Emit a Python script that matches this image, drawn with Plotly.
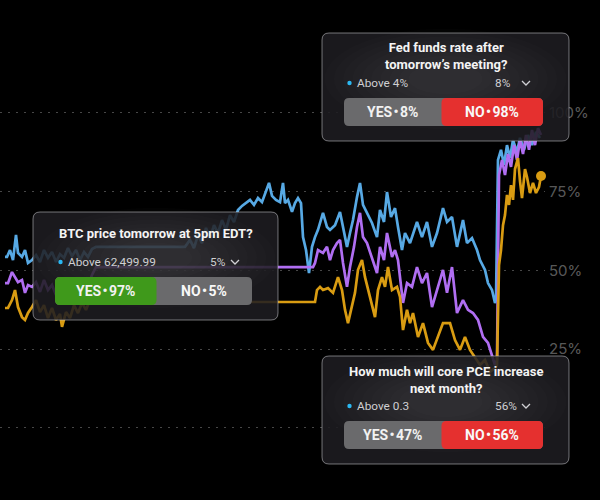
import plotly.graph_objects as go

# ---------------- data ----------------
blue_t = [5,7,10,13,16,18,22,25,28,32,36,40,44,48,52,56,60,64,68,72,76,80,84,88,92,96,185,190,194,198,202,206,210,214,218,222,226,230,234,238,242,246,250,254,258,262,266,269,272,276,280,283,285,288,292,295,298,301,303,306,309,312,315,318,323,327,330,335,340,343,347,350,353,357,360,363,367,372,377,380,384,387,391,395,398,402,405,410,417,422,427,432,437,443,447,452,457,463,467,472,477,480,485,488,492,495,496,498,501,504,507,510,513,517,520,524,528,532,536,540]
blue_v = [54.3,54.3,56.5,53.3,61.3,55.6,54.3,56.5,52.4,53.3,54.9,52.7,56.5,54.0,55.9,52.7,55.2,54.0,57.1,54.6,56.5,53.3,55.9,54.3,56.8,57.5,57.5,59.7,57.1,61.3,58.7,63.5,60.3,64.4,61.9,66.0,62.9,67.6,65.4,69.2,70.5,71.4,72.4,70.8,73.0,71.7,75.6,77.8,73.7,72.4,71.7,77.8,71.4,72.4,68.6,71.4,73.0,71.4,60.6,56.5,49.2,57.5,60.6,62.9,68.3,63.8,62.9,64.4,68.6,63.8,57.5,61.9,66.0,73.3,77.8,70.8,68.3,65.1,60.6,69.2,65.4,74.9,67.0,69.8,63.8,56.5,61.9,58.7,65.4,60.6,65.4,57.5,61.9,69.8,65.4,67.0,57.5,66.0,58.7,60.3,56.5,53.3,50.2,46.0,43.8,39.7,40.6,85.1,88.3,83.5,89.8,85.7,91.4,87.6,92.1,88.3,93.0,89.8,94.0,92.1]

purple_t = [5,8,12,15,18,22,25,28,32,36,40,44,48,52,56,60,64,68,72,76,80,84,88,92,96,313,315,318,323,327,330,333,337,340,343,347,350,354,357,360,363,367,372,377,380,384,387,392,395,398,403,407,412,417,422,427,432,437,443,447,452,457,463,468,473,478,483,488,492,495,497,499,502,505,508,511,514,517,520,523,526,529,532,535,538,541]
purple_v = [46.0,46.0,49.5,47.9,46.3,47.0,42.9,45.4,44.8,46.3,43.2,47.0,43.8,45.4,42.2,44.8,43.2,46.3,44.4,47.0,43.8,46.0,44.8,48.6,51.1,51.1,52.4,56.5,55.6,57.5,53.3,56.5,58.7,59.7,52.4,44.8,51.1,57.5,63.8,68.3,60.6,58.7,54.3,49.2,57.5,53.3,61.9,54.3,56.5,53.3,39.7,46.0,44.8,51.1,46.0,49.2,38.4,43.8,50.2,42.9,51.1,36.5,40.6,37.5,36.5,34.3,28.9,27.0,23.2,20.0,21.6,80.3,85.1,80.3,87.0,82.9,89.8,85.1,91.4,87.0,93.0,88.3,94.6,89.8,95.2,93.0]

gold_t = [5,8,12,15,18,22,25,28,32,36,40,44,48,52,56,60,62,66,70,74,78,82,86,90,96,315,317,320,323,328,333,338,342,345,348,352,355,358,362,365,368,372,375,378,382,385,388,392,397,400,403,407,410,413,418,423,428,433,438,443,450,455,460,465,470,475,480,485,490,495,497,499,501,503,505,507,509,511,513,515,518,520,522,525,527,530,533,536,539,541]
gold_v = [38.1,38.1,40.6,43.8,38.4,35.2,34.3,36.5,38.4,40.6,36.8,39.0,34.9,38.1,34.3,36.2,32.1,36.8,34.9,39.0,36.5,39.7,37.5,40.6,40.0,40.0,43.8,44.8,43.8,44.4,42.9,47.9,43.8,37.5,33.3,38.4,42.9,50.2,53.3,47.9,43.8,38.4,35.2,43.8,47.9,44.8,51.1,43.8,44.8,41.6,31.1,37.5,33.3,36.5,28.9,33.3,27.0,24.8,28.9,33.3,33.3,27.9,24.8,28.9,24.8,22.2,20.0,21.6,17.8,19.0,20.0,51.7,56.5,64.4,67.6,74.0,70.8,77.1,72.4,82.2,85.7,78.4,73.0,82.2,79.7,74.6,77.8,74.6,76.5,80.0]

tick_vals = [0, 25, 50, 75, 100]
tick_text = ["", "25%", "50%", "75%", "100%"]

card_titles = ["Fed funds rate after<br>tomorrow\u2019s meeting?",
               "BTC price tomorrow at 5pm EDT?",
               "How much will core PCE increase<br>next month?"]
card_above = ["Above 4%", "Above", "Above 0.3"]
card_above_val = [None, "62,499.99", None]
card_pct = ["8%", "5%", "56%"]
card_yes = [8, 97, 47]
card_no = [98, 5, 56]
card_yes_wins = [False, True, False]

# card geometry (pixels)
card_boxes = [(322, 33, 569, 141), (33, 212, 278, 320), (322, 356, 569, 464)]
pct_offsets = [30, 24, 24]

BLUE = "#57a9e4"
PURPLE = "#b06ef2"
GOLD = "#d99c12"
FONT = "Roboto"
W, H = 600, 500

fig = go.Figure()
fig.add_trace(go.Scatter(x=blue_t, y=blue_v, mode="lines", line=dict(color=BLUE, width=2.7), hoverinfo="skip"))
fig.add_trace(go.Scatter(x=purple_t, y=purple_v, mode="lines", line=dict(color=PURPLE, width=2.7), hoverinfo="skip"))
fig.add_trace(go.Scatter(x=gold_t, y=gold_v, mode="lines", line=dict(color=GOLD, width=2.7), hoverinfo="skip"))
fig.add_trace(go.Scatter(x=gold_t[-1:], y=gold_v[-1:], mode="markers", marker=dict(color=GOLD, size=10),
                         cliponaxis=False, hoverinfo="skip"))


def px(x, y):
    return x / W, 1 - y / H


def rrect_path(x0, y0, x1, y1, r):
    pts = [("M", [(x0 + r, y0)]), ("L", [(x1 - r, y0)]), ("Q", [(x1, y0), (x1, y0 + r)]),
           ("L", [(x1, y1 - r)]), ("Q", [(x1, y1), (x1 - r, y1)]), ("L", [(x0 + r, y1)]),
           ("Q", [(x0, y1), (x0, y1 - r)]), ("L", [(x0, y0 + r)]), ("Q", [(x0, y0), (x0 + r, y0)])]
    s = ""
    for cmd, ps in pts:
        s += cmd + " " + " ".join("%.5f,%.5f" % px(a, b) for a, b in ps) + " "
    return s + "Z"


shapes = []
annotations = []


def text(x, y, s, size, color, weight=400, xanchor="center", family=FONT):
    xp, yp = px(x, y)
    annotations.append(dict(x=xp, y=yp, xref="paper", yref="paper", text=s, showarrow=False,
                            xanchor=xanchor, yanchor="middle",
                            font=dict(family=family, size=size, color=color, weight=weight)))


def ellipse(cx, cy, rx, ry, color):
    a0 = px(cx - rx, cy - ry); a1 = px(cx + rx, cy + ry)
    shapes.append(dict(type="circle", xref="paper", yref="paper", x0=a0[0], y0=a1[1], x1=a1[0], y1=a0[1],
                       fillcolor=color, line=dict(width=0), layer="above"))


for i in range(len(card_titles)):
    x0, y0, x1, y1 = card_boxes[i]
    shapes.append(dict(type="path", path=rrect_path(x0, y0, x1, y1, 7), xref="paper", yref="paper",
                       fillcolor="rgba(30,29,33,0.88)", line=dict(width=0), layer="above"))
    cx = (x0 + x1) / 2
    cw, ch = (x1 - x0) / 2, (y1 - y0) / 2
    n = 10
    for k in range(n):
        f = 0.98 - k * (0.98 - 0.3) / (n - 1)
        ellipse(cx, y0 + ch * 0.85, cw * f, ch * f * 0.95, "rgba(255,255,255,0.010)")
    shapes.append(dict(type="path", path=rrect_path(x0, y0, x1, y1, 7), xref="paper", yref="paper",
                       fillcolor="rgba(0,0,0,0)", line=dict(color="rgba(200,200,205,0.55)", width=1),
                       layer="above"))
    if "<br>" in card_titles[i]:
        text(cx, y0 + 23.5, card_titles[i], 13, "#f4f4f4", 700)
    else:
        text(cx, y0 + 21.5, card_titles[i], 13, "#f4f4f4", 700)
    ry = y0 + 50
    ellipse(x0 + 27.5, ry, 2.2, 2.2, "#2bb8f2")
    text(x0 + 33, ry, card_above[i], 11.8, "#cfcfd2", 400, "left")
    if card_above_val[i]:
        text(x0 + 69, ry, card_above_val[i], 11.8, "#cfcfd2", 400, "left")
    bx0, bx1 = x0 + 22, x1 - 26
    text(bx1 - pct_offsets[i], ry, card_pct[i], 11.8, "#cfcfd2", 400, "right")
    chx = bx1 - 17
    p1 = px(chx - 4, ry - 2); p2 = px(chx, ry + 2); p3 = px(chx + 4, ry - 2)
    shapes.append(dict(type="path", xref="paper", yref="paper",
                       path="M %.5f,%.5f L %.5f,%.5f L %.5f,%.5f" % (p1 + p2 + p3),
                       line=dict(color="#d0d0d4", width=1.3), layer="above"))
    by0, by1 = y0 + 65, y0 + 93
    mid = (bx0 + bx1) / 2
    shapes.append(dict(type="path", path=rrect_path(bx0, by0, bx1, by1, 5), xref="paper", yref="paper",
                       fillcolor="#6a6a6c", line=dict(width=0), layer="above"))
    if card_yes_wins[i]:
        split = mid + 3
        shapes.append(dict(type="path", path=rrect_path(bx0, by0, split, by1, 5), xref="paper", yref="paper",
                           fillcolor="#3f991b", line=dict(width=0), layer="above"))
    else:
        split = mid - 2
        shapes.append(dict(type="path", path=rrect_path(split, by0, bx1, by1, 5), xref="paper", yref="paper",
                           fillcolor="#e5302f", line=dict(width=0), layer="above"))
    yes_lbl = "YES\u200a\u2022\u200a%d%%" % card_yes[i]
    no_lbl = "NO\u200a\u2022\u200a%d%%" % card_no[i]
    text((bx0 + split) / 2, (by0 + by1) / 2, yes_lbl, 14, "#f2f2f2", 700)
    text((split + bx1) / 2, (by0 + by1) / 2, no_lbl, 14, "#f8f8f8", 700)

fig.update_layout(
    width=W, height=H,
    margin=dict(l=0, r=0, t=0, b=0),
    paper_bgcolor="#000000", plot_bgcolor="#000000",
    showlegend=False,
    shapes=shapes, annotations=annotations,
    xaxis=dict(range=[0, 545], domain=[0, 545 / 600], visible=False, fixedrange=True),
    yaxis=dict(range=[-22.86, 135.87], side="right", tickvals=tick_vals, ticktext=tick_text,
               showgrid=True, gridcolor="rgba(255,255,255,0.28)", griddash="2px,6px", gridwidth=1.2,
               zeroline=False, showline=False, ticks="", ticklabelstandoff=3,
               tickfont=dict(family="Inter", size=15, color="rgba(255,255,255,0.36)"), fixedrange=True),
)

fig.write_html("out.html")
